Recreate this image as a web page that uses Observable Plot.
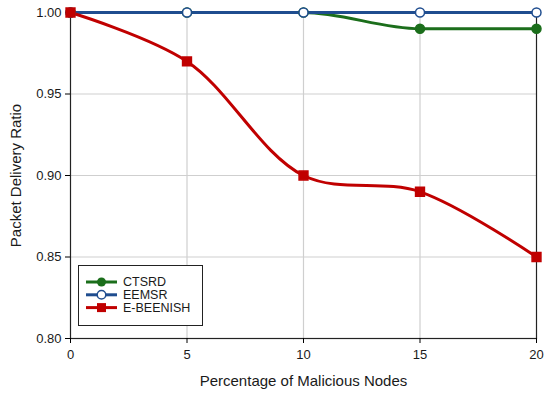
<!DOCTYPE html>
<html><head><meta charset="utf-8">
<script src="https://cdn.jsdelivr.net/npm/d3@7"></script>
<script src="https://cdn.jsdelivr.net/npm/@observablehq/plot@0.6"></script>
<style>
body{margin:0;background:#fff;font-family:"Liberation Sans",Arial,sans-serif;}
#wrap{position:relative;width:550px;height:399px;}
#wrap svg text{font-family:"Liberation Sans",Arial,sans-serif;fill:#1a1a1a;}
g[aria-label="x-axis tick label"] text, g[aria-label="y-axis tick label"] text{font-size:13px !important;}
g[aria-label="x-axis label"] text, g[aria-label="y-axis label"] text{font-size:15px !important;}
#legend{position:absolute;left:78px;top:265px;width:125px;height:61px;border:1.5px solid #222;background:#fff;box-sizing:border-box;}
</style></head>
<body><div id="wrap"></div>
<script>
const xs = [0, 5, 10, 15, 20];
const ctsrd = [1.00, 1.00, 1.00, 0.99, 0.99];
const eemsr = [1.00, 1.00, 1.00, 1.00, 1.00];
const ebeenish = [1.00, 0.97, 0.90, 0.89, 0.85];
const seriesNames = ["CTSRD", "EEMSR", "E-BEENISH"];
const colors = ["#1b6e1b", "#1f4d8f", "#c00000"];
const yTicks = [0.80, 0.85, 0.90, 0.95, 1.00];
const xTicks = [0, 5, 10, 15, 20];

const rows = (vals) => xs.map((x, i) => ({x, y: vals[i]}));
const dC = rows(ctsrd), dE = rows(eemsr), dB = rows(ebeenish);

const chart = Plot.plot({
  width: 550, height: 399,
  marginLeft: 70, marginRight: 14, marginTop: 12, marginBottom: 61,
  style: {fontFamily: '"Liberation Sans", Arial, sans-serif', background: "#fff"},
  x: {domain: [0, 20]},
  y: {domain: [0.80, 1.00]},
  marks: [
    Plot.ruleX([5, 10, 15], {stroke: "#cfcfcf", strokeWidth: 1.2}),
    Plot.ruleY([0.85, 0.90, 0.95], {stroke: "#cfcfcf", strokeWidth: 1.2}),
    Plot.frame({stroke: "#222", strokeWidth: 1.2}),
    Plot.axisX({ticks: xTicks, tickSize: 5, tickPadding: 6,
      label: "Percentage of Malicious Nodes", labelAnchor: "center", labelArrow: "none", labelOffset: 47}),
    Plot.axisY({ticks: yTicks, tickSize: 5, tickPadding: 4, tickFormat: d3.format(".2f"),
      label: "Packet Delivery Ratio", labelAnchor: "center", labelArrow: "none", labelOffset: 60}),
    Plot.line(dC, {x: "x", y: "y", stroke: colors[0], strokeWidth: 3, curve: "monotone-x"}),
    Plot.line(dE, {x: "x", y: "y", stroke: colors[1], strokeWidth: 3, curve: "catmull-rom"}),
    Plot.line(dB, {x: "x", y: "y", stroke: colors[2], strokeWidth: 3, curve: "catmull-rom"}),
    Plot.dot(dC, {x: "x", y: "y", r: 4.5, fill: colors[0], stroke: colors[0]}),
    Plot.dot(dE, {x: "x", y: "y", r: 4.5, fill: "#fff", stroke: colors[1], strokeWidth: 1.5}),
    Plot.dot(dB, {x: "x", y: "y", r: 5, symbol: "square", fill: colors[2], stroke: colors[2]})
  ]
});
const wrap = document.getElementById("wrap");
wrap.appendChild(chart);

// legend
const leg = document.createElement("div");
leg.id = "legend";
const markers = ["circle", "open", "square"];
let svg = '<svg width="122" height="58" xmlns="http://www.w3.org/2000/svg" style="font-family:\'Liberation Sans\',Arial,sans-serif;font-size:12.5px">';
seriesNames.forEach((n, i) => {
  const y = 16 + i * 12.8;
  svg += `<line x1="7" x2="38" y1="${y}" y2="${y}" stroke="${colors[i]}" stroke-width="3"/>`;
  if (markers[i] === "circle") svg += `<circle cx="22.5" cy="${y}" r="4.5" fill="${colors[i]}"/>`;
  else if (markers[i] === "open") svg += `<circle cx="22.5" cy="${y}" r="4.3" fill="#fff" stroke="${colors[i]}" stroke-width="1.5"/>`;
  else svg += `<rect x="18" y="${y-4.5}" width="9" height="9" fill="${colors[i]}"/>`;
  svg += `<text x="44" y="${y + 4.3}" fill="#1a1a1a">${n}</text>`;
});
svg += '</svg>';
leg.innerHTML = svg;
wrap.appendChild(leg);
</script></body></html>
